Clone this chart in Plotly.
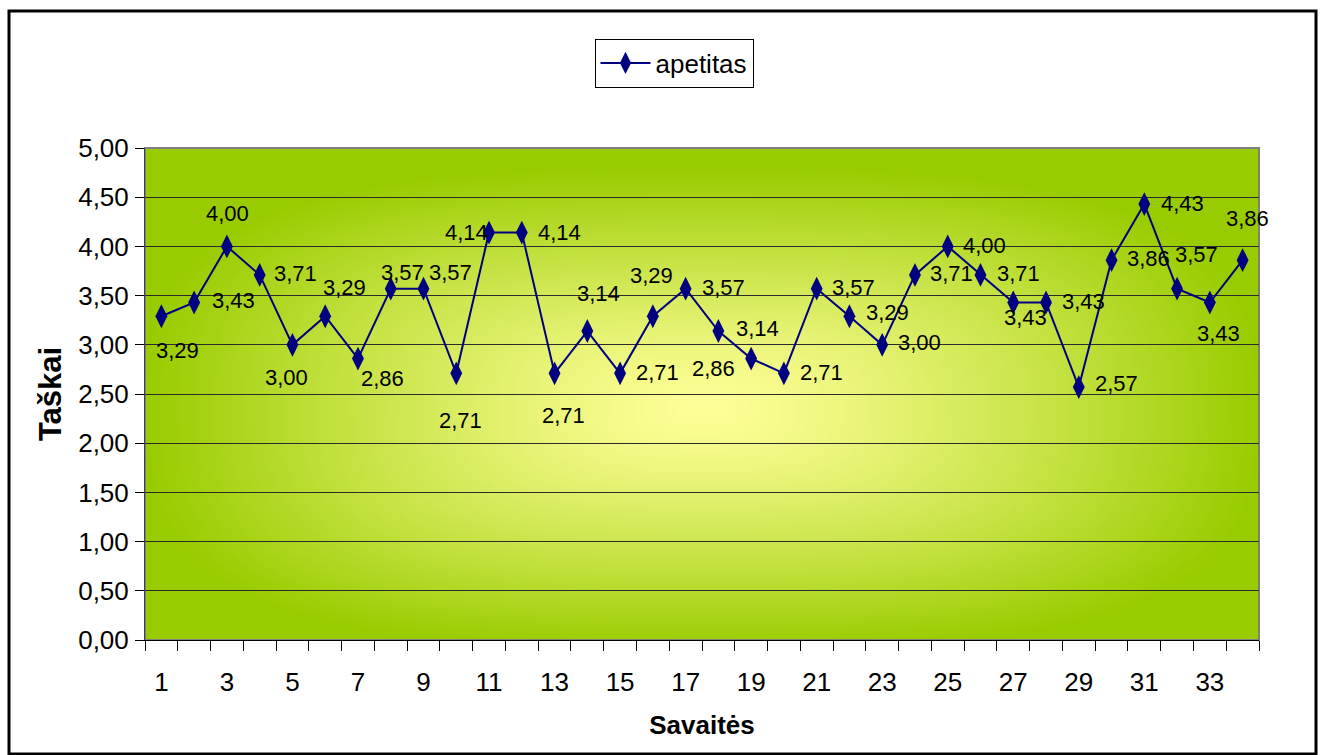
import base64
import struct
import zlib

import plotly.graph_objects as go

# Weekly appetite scores
weeks = list(range(1, 35))
apetitas = [3.29, 3.43, 4.00, 3.71, 3.00, 3.29, 2.86, 3.57, 3.57, 2.71,
            4.14, 4.14, 2.71, 3.14, 2.71, 3.29, 3.57, 3.14, 2.86, 2.71,
            3.57, 3.29, 3.00, 3.71, 4.00, 3.71, 3.43, 3.43, 2.57, 3.86,
            4.43, 3.57, 3.43, 3.86]
x_tick_vals = list(range(1, 35, 2))
y_tick_vals = [0, 0.5, 1, 1.5, 2, 2.5, 3, 3.5, 4, 4.5, 5]

# Pixel offsets (right, up) of each value label from its marker
label_offsets = [(16, -34), (39, 2), (1, 33), (36, 1), (-6, -33), (19, 29),
                 (25, -20), (12, 16), (27, 16), (4, -47), (-23, 0), (38, 0),
                 (9, -42), (11, 38), (37, 1), (-1, 41), (38, 1), (39, 3),
                 (-38, -10), (38, 1), (37, 1), (38, 4), (37, 2), (37, 1),
                 (37, 1), (38, 1), (12, -15), (37, 1), (38, 4), (37, 2),
                 (38, 1), (19, 34), (9, -31), (5, 42)]

FONT = "Liberation Sans, Arial, sans-serif"
NAVY = "#000080"

W, H = 1323, 755
L, R, T, B = 145, 1259, 148, 640
PW, PH = R - L, B - T


def gradient_png(w, h):
    """Centre-out fill: pale yellow in the middle fading to lime green."""
    c0 = (255, 255, 153)
    c1 = (153, 204, 0)
    rows = []
    for j in range(h):
        v = abs((j + 0.5) / h - 0.53) * 2.05
        row = bytearray([0])
        for i in range(w):
            u = abs((i + 0.5) / w - 0.5) * 2
            t = (u ** 3 + v ** 3) ** (1 / 3)
            t = min(1.0, t) ** 1.25
            for k in range(3):
                row.append(int(round(c0[k] * (1 - t) + c1[k] * t)))
        rows.append(bytes(row))
    raw = b"".join(rows)

    def chunk(tag, data):
        c = tag + data
        return struct.pack(">I", len(data)) + c + struct.pack(">I", zlib.crc32(c) & 0xFFFFFFFF)

    png = b"\x89PNG\r\n\x1a\n"
    png += chunk(b"IHDR", struct.pack(">IIBBBBB", w, h, 8, 2, 0, 0, 0))
    png += chunk(b"IDAT", zlib.compress(raw, 9))
    png += chunk(b"IEND", b"")
    return "data:image/png;base64," + base64.b64encode(png).decode()


fig = go.Figure()
fig.add_trace(go.Scatter(
    x=weeks, y=apetitas, name="apetitas", mode="lines+markers",
    line=dict(color=NAVY, width=2),
    marker=dict(symbol="diamond-tall", size=17, color=NAVY),
    hoverinfo="skip",
))

for wk, val, (dx, dy) in zip(weeks, apetitas, label_offsets):
    fig.add_annotation(
        x=wk, y=val, text=f"{val:.2f}".replace(".", ","),
        showarrow=False, xshift=dx, yshift=dy,
        font=dict(family=FONT, size=22, color="black"),
    )


def px_x(p):
    return (p - L) / PW


def px_y(p):
    return (B - p) / PH


fig.add_layout_image(dict(
    source=gradient_png(280, 124), xref="paper", yref="paper",
    x=0, y=1, sizex=1, sizey=1, sizing="stretch", layer="below",
    xanchor="left", yanchor="top",
))

# plot-area frame
fig.add_shape(type="rect", xref="paper", yref="paper", x0=0, x1=1, y0=0, y1=1,
              line=dict(color="#808080", width=2), layer="below")
# outer chart frame
fig.add_shape(type="rect", xref="paper", yref="paper",
              x0=px_x(9), x1=px_x(1316), y0=px_y(754), y1=px_y(11),
              line=dict(color="black", width=3), layer="above")

fig.update_layout(
    width=W, height=H,
    margin=dict(l=L, r=W - R, t=T, b=H - B, pad=0),
    paper_bgcolor="white", plot_bgcolor="rgba(0,0,0,0)",
    separators=", ",
    showlegend=True,
    legend=dict(
        x=px_x(674), y=px_y(63), xanchor="center", yanchor="middle",
        bordercolor="black", borderwidth=1, bgcolor="white",
        itemwidth=50,
        font=dict(family=FONT, size=26, color="black"),
    ),
    xaxis=dict(
        range=[0.5, 34.5], tickmode="array", tickvals=x_tick_vals,
        ticks="", showgrid=False, zeroline=False,
        showline=True, linecolor="black", linewidth=1,
        tickfont=dict(family=FONT, size=26, color="black"),
        ticklabelstandoff=19,
        minor=dict(tick0=0.5, dtick=1, ticks="outside", ticklen=10,
                   tickcolor="black", showgrid=False),
        title=dict(text="Savaitės", standoff=19,
                   font=dict(family=FONT, size=26, color="black", weight="bold")),
        fixedrange=True,
    ),
    yaxis=dict(
        range=[0, 5], tickmode="array", tickvals=y_tick_vals, tickformat=".2f",
        ticks="outside", ticklen=9, tickcolor="black",
        showgrid=True, gridcolor="#2b2b2b", gridwidth=1, zeroline=False,
        showline=True, linecolor="#404040", linewidth=1,
        tickfont=dict(family=FONT, size=26, color="black"),
        ticklabelstandoff=1,
        title=dict(text="Taškai", standoff=7,
                   font=dict(family=FONT, size=31, color="black", weight="bold")),
        fixedrange=True,
    ),
)

fig.write_html("out.html")
